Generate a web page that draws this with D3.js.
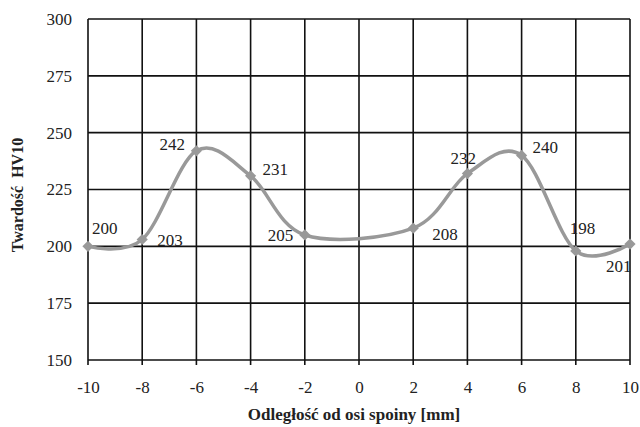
<!DOCTYPE html>
<html>
<head>
<meta charset="utf-8">
<script src="https://cdn.jsdelivr.net/npm/d3@7"></script>
<style>
  body { margin: 0; background: #fff; }
</style>
</head>
<body>
<div id="chart"></div>
<script>
// distance from weld axis [mm] and hardness HV10
var distances = [-10, -8, -6, -4, -2, 2, 4, 6, 8, 10];
var hardness = [200, 203, 242, 231, 205, 208, 232, 240, 198, 201];
var xTicks = [-10, -8, -6, -4, -2, 0, 2, 4, 6, 8, 10];
var yTicks = [150, 175, 200, 225, 250, 275, 300];
// label offsets relative to the marker (dx, dy)
var labelOffsets = [[4, -18], [15, 1], [-37, -7], [12, -7], [-37, 0], [19, 6], [-17, -16], [11, -8], [-6, -23], [-24, 22]];

const FONT = "'Liberation Serif', 'Times New Roman', serif";

const margin = { top: 19, right: 10, bottom: 67, left: 88 },
    width = 640 - margin.left - margin.right,
    height = 427 - margin.top - margin.bottom;

const svg = d3.select("#chart")
    .append("svg")
    .attr("width", 640)
    .attr("height", 427)
    .style("font-family", FONT)
    .append("g")
    .attr("transform", `translate(${margin.left},${margin.top})`);

var x = d3.scaleLinear().domain([-10, 10]).range([0, width]);
var y = d3.scaleLinear().domain([150, 300]).range([height, 0]);

// grid
svg.append("g")
    .selectAll("line")
    .data(xTicks)
    .enter()
    .append("line")
    .attr("x1", d => x(d)).attr("x2", d => x(d))
    .attr("y1", 0).attr("y2", height + 5)
    .attr("stroke", "#111").attr("stroke-width", 1.6);

svg.append("g")
    .selectAll("line")
    .data(yTicks)
    .enter()
    .append("line")
    .attr("x1", 0).attr("x2", width)
    .attr("y1", d => y(d)).attr("y2", d => y(d))
    .attr("stroke", "#111").attr("stroke-width", 1.6);

// axes labels
var xAxis = svg.append("g")
    .attr("transform", "translate(0," + height + ")")
    .call(d3.axisBottom(x).tickValues(xTicks).tickSize(0).tickPadding(21).tickFormat(d => String(d)));
xAxis.attr("font-family", null);
xAxis.select(".domain").remove();
xAxis.selectAll("text").style("font-family", FONT).style("font-size", "17px").attr("fill", "#222");

var yAxis = svg.append("g")
    .call(d3.axisLeft(y).tickValues(yTicks).tickSize(0).tickPadding(16));
yAxis.attr("font-family", null);
yAxis.select(".domain").remove();
yAxis.selectAll("text").style("font-family", FONT).style("font-size", "17px").attr("fill", "#222");

// titles
svg.append("text")
    .attr("text-anchor", "middle")
    .attr("x", 266)
    .attr("y", height + 60)
    .style("font-family", FONT)
    .style("font-size", "17px")
    .style("font-weight", "bold")
    .attr("fill", "#222")
    .text("Odległość od osi spoiny [mm]");

svg.append("text")
    .attr("text-anchor", "middle")
    .attr("transform", "translate(-65,176) rotate(-90)")
    .style("font-family", FONT)
    .style("font-size", "16px")
    .style("font-weight", "bold")
    .style("white-space", "pre")
    .attr("fill", "#222")
    .text("Twardość  HV10");

// smoothed line
var points = distances.map((d, i) => [d, hardness[i]]);
svg.append("path")
    .datum(points)
    .attr("fill", "none")
    .attr("stroke", "#999")
    .attr("stroke-width", 3.5)
    .attr("d", d3.line()
        .curve(d3.curveCardinal.tension(0))
        .x(d => x(d[0]))
        .y(d => y(d[1])));

// markers
svg.selectAll(".marker")
    .data(points)
    .enter()
    .append("path")
    .attr("class", "marker")
    .attr("transform", d => `translate(${x(d[0])},${y(d[1])})`)
    .attr("d", d3.symbol().type(d3.symbolDiamond2).size(80))
    .attr("fill", "#999");

// data labels
svg.selectAll(".lbl")
    .data(points)
    .enter()
    .append("text")
    .attr("class", "lbl")
    .attr("x", (d, i) => x(d[0]) + labelOffsets[i][0])
    .attr("y", (d, i) => y(d[1]) + labelOffsets[i][1])
    .attr("dy", "0.35em")
    .style("font-family", FONT)
    .style("font-size", "17px")
    .attr("fill", "#222")
    .text(d => d[1]);
</script>
</body>
</html>
